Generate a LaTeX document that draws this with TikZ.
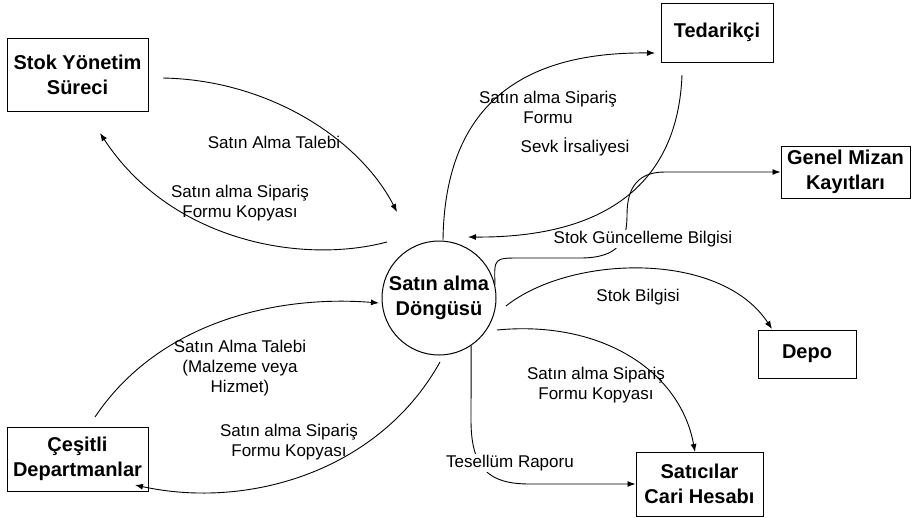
\documentclass[tikz,border=0pt]{standalone}
\usepackage{fontspec}
\setmainfont{Liberation Sans}
\usetikzlibrary{arrows.meta}
\begin{document}
\begin{tikzpicture}[x=1pt,y=-1pt,
  box/.style={draw,line width=1pt,inner sep=0pt,align=center,font=\fontsize{20}{25}\selectfont\bfseries},
  proc/.style={draw,circle,line width=1pt,inner sep=0pt,minimum size=114pt,align=center,font=\fontsize{20}{25}\selectfont\bfseries},
  lbl/.style={inner sep=1pt,align=center,font=\fontsize{17}{20}\selectfont},
  lblw/.style={lbl,fill=white},
  flow/.style={line width=0.9pt,-{Latex[length=8pt,width=6pt]}}]
\useasboundingbox (0,0) rectangle (913,517);
% nodes
\node[box,minimum width=141pt,minimum height=73pt] (stok) at (77.5,74.5) {Stok Yönetim\\Süreci};
\node[box,minimum width=112pt,minimum height=59pt] (ted) at (717,32.5) {Tedarikçi};
\node[box,minimum width=129pt,minimum height=52pt] (gm) at (845.5,172) {Genel Mizan\\Kayıtları};
\node[box,minimum width=98pt,minimum height=48pt] (depo) at (807,354) {Depo};
\node[box,minimum width=127pt,minimum height=64pt] (sat) at (699.5,484) {Satıcılar\\Cari Hesabı};
\node[box,minimum width=141pt,minimum height=64pt] (cesit) at (77.5,459) {Çeşitli\\Departmanlar};
\node[proc] (c) at (439,298) {Satın alma\\Döngüsü};
% free ends
\coordinate (a1s) at (163,78);  \coordinate (a1e) at (397,212);
\coordinate (a2s) at (387,242); \coordinate (a2e) at (100,133);
\coordinate (a3s) at (443,240); \coordinate (a3e) at (655,53);
\coordinate (a4s) at (682,75);  \coordinate (a4e) at (468,237);
\coordinate (a6s) at (506,306); \coordinate (a6e) at (772,329);
\coordinate (a7s) at (497,330); \coordinate (a7e) at (695,452);
\coordinate (a9s) at (95,417);  \coordinate (a9e) at (379,303);
\coordinate (a10s) at (440,362); \coordinate (a10e) at (135,485);
% connectors
\draw[flow] (a1s) .. controls (270,80) and (360,140) .. (a1e);
\draw[flow] (a2s) .. controls (300,265) and (170,240) .. (a2e);
\draw[flow] (a3s) .. controls (445,90) and (540,52) .. (a3e);
\draw[flow] (a4s) .. controls (678,180) and (610,238) .. (a4e);
\draw[flow] (c.13) .. controls (494,258) .. (520,258) -- (580,258)
   .. controls (620,258) and (627,240) .. (627,215)
   .. controls (627,185) and (640,172) .. (665,172) -- (gm.west);
\draw[flow] (a6s) .. controls (570,255) and (720,250) .. (a6e);
\draw[flow] (a7s) .. controls (600,320) and (680,370) .. (a7e);
\draw[flow] (c.-56) -- (471,420) .. controls (471,470) and (490,484) .. (530,484) -- (sat.west);
\draw[flow] (a9s) .. controls (160,320) and (280,295) .. (a9e);
\draw[flow] (a10s) .. controls (380,470) and (250,510) .. (a10e);
% labels
\node[lbl] (l1) at (274,142) {Satın Alma Talebi};
\node[lbl] (l2) at (240,203) {Satın alma Sipariş\\Formu Kopyası};
\node[lbl] (l3) at (548,107) {Satın alma Sipariş\\Formu};
\node[lbl] (l4) at (575,147) {Sevk İrsaliyesi};
\node[lblw] (l5) at (643,239) {Stok Güncelleme Bilgisi};
\node[lbl] (l6) at (638,297) {Stok Bilgisi};
\node[lbl] (l7) at (596,385) {Satın alma Sipariş\\Formu Kopyası};
\node[lbl] (l8) at (240,368) {Satın Alma Talebi\\(Malzeme veya\\Hizmet)};
\node[lbl] (l9) at (289,442) {Satın alma Sipariş\\Formu Kopyası};
\node[lblw] (l10) at (510,463) {Tesellüm Raporu};
\end{tikzpicture}
\end{document}
